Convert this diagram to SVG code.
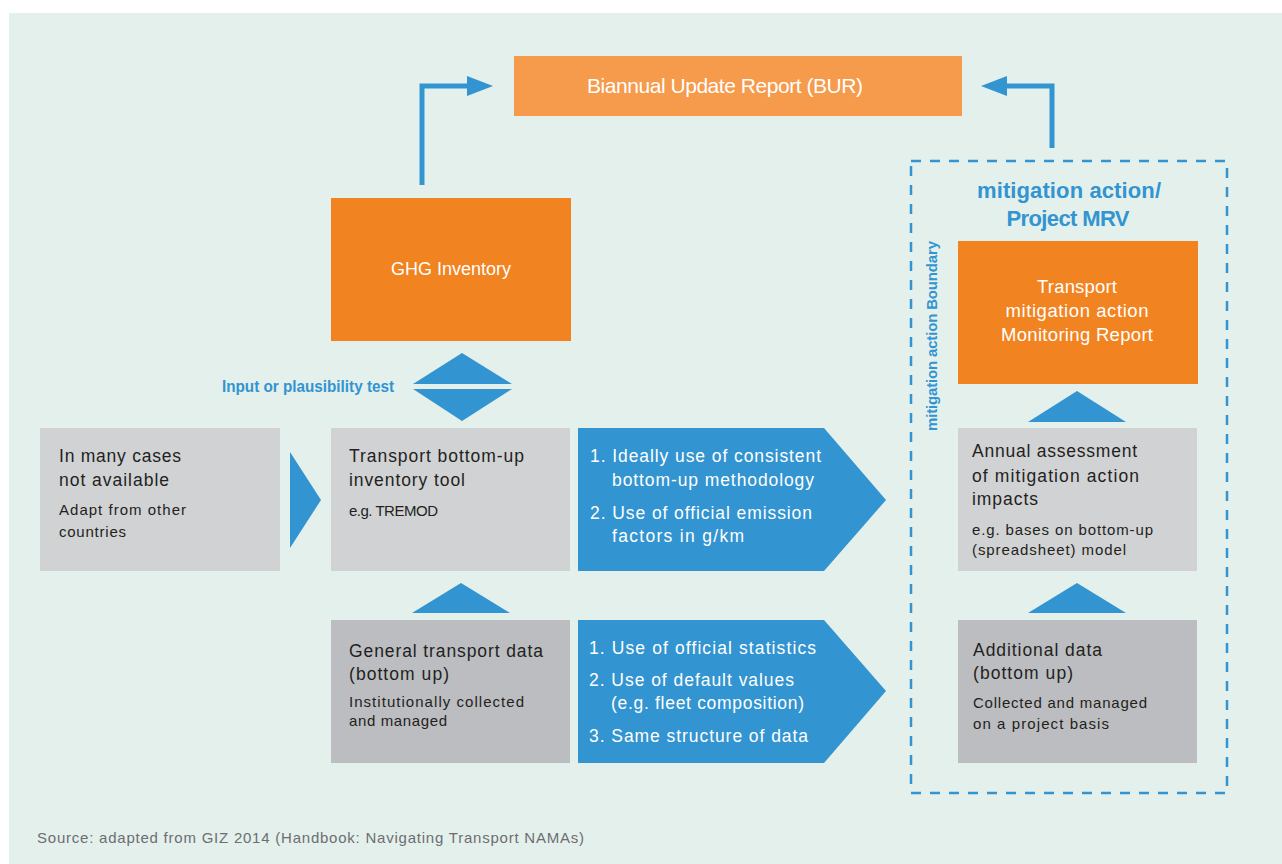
<svg xmlns="http://www.w3.org/2000/svg" width="1282" height="864" viewBox="0 0 1282 864">
  <defs>
    <style>
      text { font-family: "Liberation Sans", Arial, sans-serif; }
      .bg { fill: #e4f0ec; }
      .orange { fill: #f28321; }
      .orange-lt { fill: #f69a4b; }
      .grey-lt { fill: #d1d2d4; }
      .grey-dk { fill: #bcbdc0; }
      .blue { fill: #3294d0; }
      .main { font-size: 17.5px; fill: #231f20; }
      .sub { font-size: 15px; fill: #231f20; }
      .list { font-size: 17.5px; fill: #ffffff; }
      .white { font-size: 18.5px; fill: #ffffff; }
      .label { font-size: 15px; font-weight: bold; fill: #3294d0; }
      .title { font-size: 22px; font-weight: bold; fill: #3294d0; }
      .source { font-size: 15px; fill: #6d6e71; }
      .link { fill: none; stroke: #3294d0; stroke-width: 5; stroke-linejoin: miter; }
      .boundary { fill: none; stroke: #3294d0; stroke-width: 2.5; stroke-dasharray: 10 9; }
    </style>
    <marker id="head" viewBox="0 0 26 20" markerWidth="26" markerHeight="20" refX="1" refY="10" orient="auto" markerUnits="userSpaceOnUse">
      <path d="M0,0 L26,10 L0,20 z" fill="#3294d0"/>
    </marker>
  </defs>

  <!-- panel background -->
  <rect class="bg" x="9" y="13" width="1273" height="851"/>

  <!-- dashed project boundary -->
  <g id="boundary">
    <rect class="boundary" x="911" y="161" width="316" height="632"/>
    <text class="label" transform="translate(937,336) rotate(-90)" text-anchor="middle" textLength="190">mitigation action Boundary</text>
    <text class="title" x="1069" y="198" text-anchor="middle" textLength="184">mitigation action/</text>
    <text class="title" x="1068" y="226" text-anchor="middle" textLength="123">Project MRV</text>
  </g>

  <!-- connectors -->
  <g id="connectors">
    <path class="link" d="M422,185 V86 H468" marker-end="url(#head)"/>
    <path class="link" d="M1052,148 V86 H1006" marker-end="url(#head)"/>
    <!-- input / plausibility test diamond -->
    <polygon class="blue" points="413,384 462,353 512,384"/>
    <polygon class="blue" points="413,389 512,389 462,421"/>
    <text class="label" x="222" y="392" textLength="172" lengthAdjust="spacingAndGlyphs" style="font-size:16px">Input or plausibility test</text>
    <!-- flow markers -->
    <polygon class="blue" points="290,452 321,500 290,548"/>
    <polygon class="blue" points="412,613 461,583 510,613"/>
    <polygon class="blue" points="1028,422 1077,391 1126,422"/>
    <polygon class="blue" points="1028,613 1077,583 1126,613"/>
  </g>

  <g id="bur">
    <rect class="orange-lt" x="514" y="56" width="448" height="60"/>
    <text class="white" x="725" y="93" text-anchor="middle" textLength="276" style="font-size:21px">Biannual Update Report (BUR)</text>
  </g>

  <g id="ghg-inventory">
    <rect class="orange" x="331" y="198" width="240" height="143"/>
    <text class="white" x="451" y="275" text-anchor="middle" textLength="120" style="font-size:18px">GHG Inventory</text>
  </g>

  <g id="not-available">
    <rect class="grey-lt" x="40" y="428" width="240" height="143"/>
    <text class="main" x="59" y="462" textLength="122">In many cases</text>
    <text class="main" x="59" y="486" textLength="110">not available</text>
    <text class="sub" x="59" y="515" textLength="127">Adapt from other</text>
    <text class="sub" x="59" y="537" textLength="67">countries</text>
  </g>

  <g id="inventory-tool">
    <rect class="grey-lt" x="331" y="428" width="239" height="143"/>
    <text class="main" x="349" y="462" textLength="175">Transport bottom-up</text>
    <text class="main" x="349" y="486" textLength="116">inventory tool</text>
    <text class="sub" x="349" y="516" textLength="89">e.g. TREMOD</text>
  </g>

  <g id="methodology">
    <polygon class="blue" points="578,428 824,428 886,500 824,571 578,571"/>
    <text class="list" x="590" y="462" textLength="231">1. Ideally use of consistent</text>
    <text class="list" x="612" y="486" textLength="202">bottom-up methodology</text>
    <text class="list" x="590" y="519" textLength="222">2. Use of official emission</text>
    <text class="list" x="612" y="542" textLength="132">factors in g/km</text>
  </g>

  <g id="transport-data">
    <rect class="grey-dk" x="331" y="620" width="239" height="143"/>
    <text class="main" x="349" y="657" textLength="194">General transport data</text>
    <text class="main" x="349" y="680" textLength="100">(bottom up)</text>
    <text class="sub" x="349" y="707" textLength="175">Institutionally collected</text>
    <text class="sub" x="349" y="726" textLength="98">and managed</text>
  </g>

  <g id="statistics">
    <polygon class="blue" points="578,620 824,620 886,691 824,763 578,763"/>
    <text class="list" x="589" y="654" textLength="227">1. Use of official statistics</text>
    <text class="list" x="589" y="686" textLength="205">2. Use of default values</text>
    <text class="list" x="611" y="709" textLength="193">(e.g. fleet composition)</text>
    <text class="list" x="589" y="742" textLength="219">3. Same structure of data</text>
  </g>

  <g id="monitoring-report">
    <rect class="orange" x="958" y="241" width="240" height="143"/>
    <text class="white" x="1077" y="293" text-anchor="middle" textLength="80">Transport</text>
    <text class="white" x="1077" y="317" text-anchor="middle" textLength="143">mitigation action</text>
    <text class="white" x="1077" y="341" text-anchor="middle" textLength="152">Monitoring Report</text>
  </g>

  <g id="annual-assessment">
    <rect class="grey-lt" x="958" y="428" width="239" height="143"/>
    <text class="main" x="972" y="457" textLength="165">Annual assessment</text>
    <text class="main" x="972" y="482" textLength="167">of mitigation action</text>
    <text class="main" x="972" y="505" textLength="66">impacts</text>
    <text class="sub" x="972" y="535" textLength="181">e.g. bases on bottom-up</text>
    <text class="sub" x="972" y="555" textLength="154">(spreadsheet) model</text>
  </g>

  <g id="additional-data">
    <rect class="grey-dk" x="958" y="620" width="239" height="143"/>
    <text class="main" x="973" y="656" textLength="129">Additional data</text>
    <text class="main" x="973" y="679" textLength="100">(bottom up)</text>
    <text class="sub" x="973" y="708" textLength="174">Collected and managed</text>
    <text class="sub" x="973" y="729" textLength="136">on a project basis</text>
  </g>

  <text class="source" x="37" y="843" textLength="547">Source: adapted from GIZ 2014 (Handbook: Navigating Transport NAMAs)</text>
</svg>
